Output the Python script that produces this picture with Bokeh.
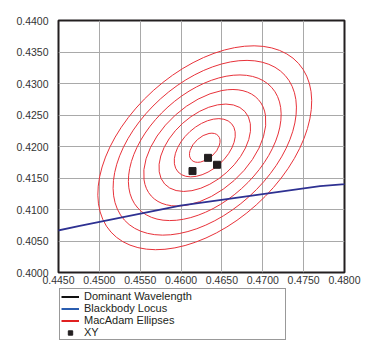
from bokeh.plotting import figure
from bokeh.layouts import column
from bokeh.models import Legend, LegendItem, FixedTicker, PrintfTickFormatter, Range1d
from bokeh.embed import file_html
from bokeh.resources import INLINE
import math

# ---- data ----
x_ticks = [0.4450, 0.4500, 0.4550, 0.4600, 0.4650, 0.4700, 0.4750, 0.4800]
y_ticks = [0.4000, 0.4050, 0.4100, 0.4150, 0.4200, 0.4250, 0.4300, 0.4350, 0.4400]

# MacAdam ellipses: 1..7 step, common centre
ellipse_steps = [1, 2, 3, 4, 5, 6, 7]
ellipse_center_x = 0.4629
ellipse_center_y = 0.4198
ellipse_step_width = 0.00441   # full major axis per step (x units)
ellipse_step_height = 0.00349  # full minor axis per step (y units)
ellipse_angle_deg = 42

# Blackbody (Planckian) locus
locus_x = [0.4400, 0.4476, 0.4599, 0.4770, 0.4861]
locus_y = [0.4053, 0.4074, 0.4106, 0.4137, 0.4147]

# measured xy points
xy_x = [0.4614, 0.4633, 0.4644]
xy_y = [0.4161, 0.4182, 0.4171]

legend_labels = ["Dominant Wavelength", "Blackbody Locus", "MacAdam Ellipses", "XY"]
legend_colors = ["#111111", "#2a5db0", "#e02020", "#231f20"]

FONT = "Liberation Sans Narrow, Liberation Sans, Arial, sans-serif"
NAN = float("nan")

p = figure(width=364, height=287, output_backend="svg", toolbar_location=None,
           x_range=Range1d(0.4450, 0.4800), y_range=Range1d(0.4000, 0.4400),
           min_border_left=58, min_border_right=20, min_border_top=20,
           min_border_bottom=15)

p.outline_line_color = "#231f20"
p.outline_line_width = 2

for ax in (p.xaxis[0], p.yaxis[0]):
    ax.axis_line_color = None
    ax.major_tick_line_color = None
    ax.minor_tick_line_color = None
    ax.major_tick_out = 0
    ax.major_tick_in = 0
    ax.minor_tick_out = 0
    ax.major_label_text_font = FONT
    ax.major_label_text_font_size = "10.5px"
    ax.major_label_text_color = "#333333"
    ax.formatter = PrintfTickFormatter(format="%.4f")
p.xaxis.ticker = FixedTicker(ticks=x_ticks)
p.yaxis.ticker = FixedTicker(ticks=y_ticks)
p.xaxis.major_label_standoff = 3
p.yaxis.major_label_standoff = 10
p.xgrid.ticker = FixedTicker(ticks=x_ticks)
p.ygrid.ticker = FixedTicker(ticks=y_ticks)
p.grid.grid_line_color = "#a9a9a9"
p.grid.grid_line_width = 1

# ellipses
p.ellipse(x=[ellipse_center_x] * len(ellipse_steps),
          y=[ellipse_center_y] * len(ellipse_steps),
          width=[s * ellipse_step_width for s in ellipse_steps],
          height=[s * ellipse_step_height for s in ellipse_steps],
          angle=math.radians(ellipse_angle_deg),
          fill_color=None, line_color="#e8323a", line_width=1)

# blackbody locus
p.line(locus_x, locus_y, line_color="#2e3192", line_width=1.8)

# xy points
p.scatter(xy_x, xy_y, marker="square", size=7, fill_color="#231f20",
          line_color="#231f20")

# ---- legend panel (separate strip below the chart) ----
q = figure(width=364, height=53, output_backend="svg", toolbar_location=None,
           x_range=Range1d(0, 1), y_range=Range1d(0, 1),
           min_border_left=57, min_border_right=8, min_border_top=0,
           min_border_bottom=0)
q.axis.visible = False
q.grid.visible = False
q.outline_line_color = None

items = []
for lab, col in zip(legend_labels, legend_colors):
    if lab == "XY":
        r = q.scatter([NAN], [NAN], marker="square", size=7,
                      fill_color=col, line_color=col)
    else:
        r = q.line([NAN], [NAN], line_color=col, line_width=2)
    items.append(LegendItem(label=lab, renderers=[r]))

legend = Legend(items=items, location="top_left")
legend.margin = 1
legend.padding = 1
legend.spacing = 0
legend.glyph_width = 18
legend.glyph_height = 11
legend.label_height = 11
legend.label_standoff = 5
legend.label_width = 200
legend.label_text_font = "Liberation Sans, Arial, sans-serif"
legend.label_text_font_size = "11px"
legend.label_text_color = "#231f20"
legend.border_line_color = "#333333"
legend.border_line_width = 1.5
legend.background_fill_color = "white"
legend.background_fill_alpha = 1
q.add_layout(legend, "center")

layout = column(p, q, spacing=0)
open("out.html", "w").write(file_html(layout, INLINE))
